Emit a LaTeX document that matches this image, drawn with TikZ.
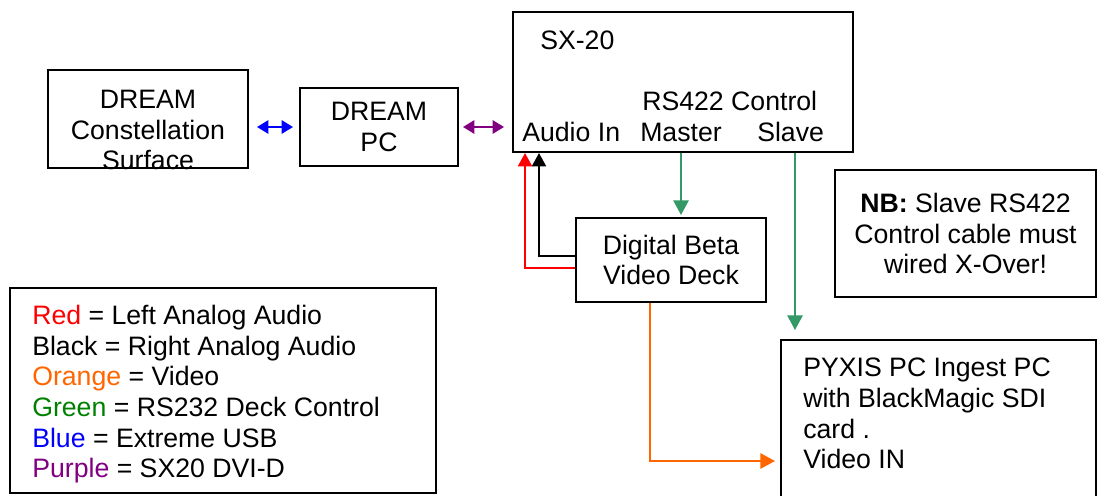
\documentclass[tikz,border=0pt]{standalone}
\usepackage{xcolor}
\usepackage{fontspec}
\setmainfont{Liberation Sans}
\usepackage{tikz}
\usetikzlibrary{arrows.meta,calc}

\definecolor{wiregreen}{HTML}{339966}
\definecolor{wireorange}{HTML}{FF6600}
\definecolor{wirepurple}{HTML}{800080}
\definecolor{keygreen}{HTML}{008000}

\tikzset{
  box/.style={draw, line width=1.5pt, inner sep=0pt, align=center},
  txt/.style={inner sep=0pt, align=left},
  wire/.style={line width=1.4pt, -{Triangle[length=11pt,width=11.5pt]}},
  thinwire/.style={line width=1.4pt, -{Triangle[length=10pt,width=10.5pt]}},
  twoway/.style={line width=1.4pt, {Triangle[length=8.5pt,width=10pt]}-{Triangle[length=8.5pt,width=10pt]}}
}

\begin{document}
\begin{tikzpicture}[x=0.75pt,y=-0.75pt,font=\fontsize{20}{23}\selectfont]
            \useasboundingbox (0,0) rectangle (1103,496);

            \node[box, minimum width=150pt, minimum height=73.5pt] (surface) at (148,119) {};
            \node[txt, align=center, anchor=north] (surfacetext) at (148,90) {DREAM\\Constellation\\Surface};
            \node[box, minimum width=118.5pt, minimum height=58.5pt] (dreampc) at (379,127) {DREAM\\PC};

            \node[box, minimum width=255pt, minimum height=105pt] (sx) at (683,82) {};
            \node[txt, anchor=north west] (sxname) at (540,31) {SX-20};
            \node[txt, anchor=base west] (rs) at (642,110) {RS422 Control};
            \node[txt, anchor=base west] (audioin) at (522,141) {Audio In};
            \node[txt, anchor=base west] (master) at (640,141) {Master};
            \node[txt, anchor=base west] (slave) at (757,141) {Slave};

            \node[box, minimum width=142.5pt, minimum height=63pt] (deck) at (671,260) {Digital Beta\\Video Deck};
            \node[box, minimum width=195.75pt, minimum height=95.25pt] (nb) at (965.5,233.5) {\textbf{NB:} Slave RS422\\Control cable must\\wired X-Over!};

            \node[box, minimum width=236.25pt, minimum height=117.75pt] (pyxis) at (938.5,418.5) {};
            \node[txt, anchor=north west] (pyxistext) at (803,358) {PYXIS PC Ingest PC\\with BlackMagic SDI\\card .\\Video IN};

            \node[box, minimum width=319.5pt, minimum height=153.75pt] (key) at (223,390.5) {};
            \node[txt, anchor=north west] (keytext) at (32,305) {%
              \textcolor{red}{Red} = Left Analog Audio\\
              Black = Right Analog Audio\\
              \textcolor{wireorange}{Orange} = Video\\
              \textcolor{keygreen}{Green} = RS232 Deck Control\\
              \textcolor{blue}{Blue} = Extreme USB\\
              \textcolor{wirepurple}{Purple} = SX20 DVI-D};

            \coordinate (slavein) at (795,330);
            \coordinate (vidin) at (775,461);

            \draw[twoway, blue, shorten <=6pt, shorten >=4.5pt] (dreampc.west -| surface.east) -- (dreampc.west);
            \draw[twoway, wirepurple, shorten <=3pt, shorten >=6pt] (dreampc.east) -- (dreampc.east -| sx.west);
            \draw[wire, wiregreen] (master |- sx.south) -- ($(master |- deck.north)+(0,-2)$);
            \draw[wire, wiregreen] (slavein |- sx.south) -- (slavein);
            \draw[thinwire, red] ($(deck.west)+(0,8)$) -| ($(sx.south west)+(13,0)$);
            \draw[thinwire, black] ($(deck.west)+(0,-4)$) -| ($(sx.south west)+(27,0)$);
            \draw[wire, wireorange] ($(deck.south west)+(75,0)$) |- (vidin);
         \end{tikzpicture}
\end{document}
